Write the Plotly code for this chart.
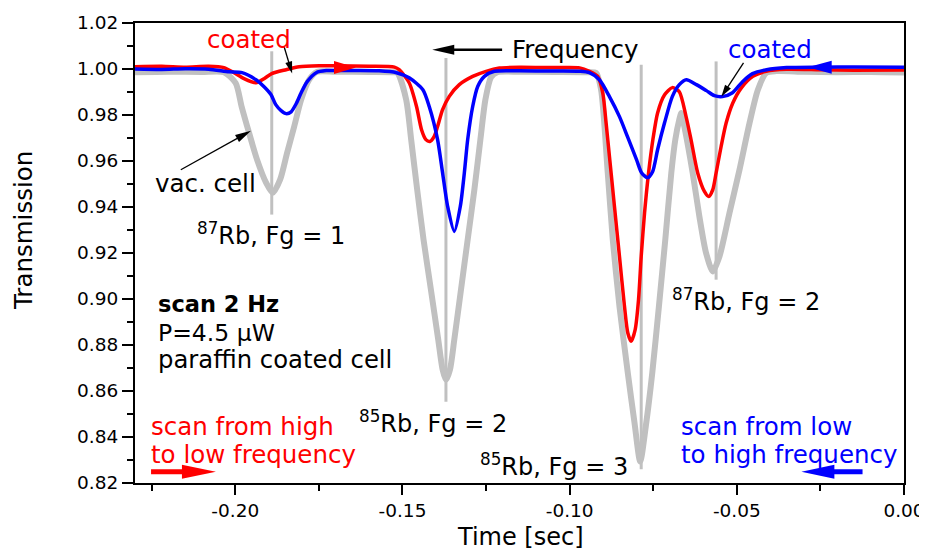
import math
import plotly.graph_objects as go

# ---------------- data ----------------
gray_x = [-0.230, -0.220, -0.210, -0.2034, -0.1999, -0.1981, -0.1959, -0.1935, -0.1908, -0.1888,
          -0.1866, -0.1845, -0.1824, -0.1803, -0.1779, -0.1755, -0.170, -0.160, -0.1530,
          -0.1515, -0.1489, -0.1474, -0.1456, -0.1437, -0.1415, -0.1393, -0.1380, -0.1370,
          -0.1358, -0.1345, -0.1325, -0.1305, -0.1285, -0.1267, -0.1252, -0.1235, -0.1216,
          -0.115, -0.105, -0.095, -0.0921, -0.0906, -0.0886, -0.0871, -0.0851, -0.0826,
          -0.0806, -0.0789, -0.0771, -0.0753, -0.0733, -0.0714, -0.0696, -0.0684, -0.0672,
          -0.0666, -0.0657, -0.0632, -0.0612, -0.0592, -0.0572, -0.0552, -0.0522, -0.0492,
          -0.0462, -0.0437, -0.0412, -0.0382, -0.030, -0.020, -0.010, 0.0]
gray_y = [0.9986, 0.9988, 0.9987, 0.9986, 0.9939, 0.9836, 0.9723, 0.9606, 0.9506, 0.9462,
          0.9519, 0.9636, 0.9749, 0.9867, 0.9954, 0.9988, 0.9988, 0.9987, 0.9986,
          0.9983, 0.9867, 0.9693, 0.9475, 0.9258, 0.9041, 0.8823, 0.8693, 0.8649,
          0.8693, 0.8823, 0.9041, 0.9258, 0.9475, 0.9693, 0.9867, 0.9965, 0.9986,
          0.9988, 0.9987, 0.9986, 0.9983, 0.9910, 0.9548, 0.9258, 0.8968, 0.8678,
          0.8461, 0.8294, 0.8461, 0.8678, 0.8968, 0.9258, 0.9548, 0.9693, 0.9780,
          0.9809, 0.9750, 0.9548, 0.9359, 0.9200, 0.9120, 0.9185, 0.9374, 0.9562,
          0.9765, 0.9910, 0.9983, 0.9991, 0.9988, 0.9986, 0.9987, 0.9985]

red_x = [-0.230, -0.222, -0.215, -0.208, -0.2034, -0.2004, -0.1974, -0.1938, -0.1914, -0.1891,
         -0.1848, -0.1809, -0.1749, -0.170, -0.160, -0.1524, -0.1510, -0.1480, -0.1458,
         -0.1443, -0.1430, -0.1418, -0.1405, -0.1395, -0.1380, -0.1360, -0.1330, -0.1290,
         -0.1250, -0.1210, -0.115, -0.105, -0.097, -0.0941, -0.0916, -0.0901, -0.0891,
         -0.0881, -0.0866, -0.0851, -0.0836, -0.0826, -0.0816, -0.0804, -0.0794, -0.0786,
         -0.0776, -0.0764, -0.0751, -0.0737, -0.0716, -0.0693, -0.0672, -0.0652, -0.0637,
         -0.0617, -0.0597, -0.0584, -0.0572, -0.0562, -0.0547, -0.0532, -0.0512, -0.0487,
         -0.0452, -0.0412, -0.0352, -0.025, -0.015, 0.0]
red_y = [1.0010, 1.0012, 1.0008, 1.0012, 1.0006, 0.9984, 0.9958, 0.9940, 0.9958, 0.9980,
         0.9997, 1.0010, 1.0014, 1.0014, 1.0012, 1.0008, 0.9997, 0.9940, 0.9837,
         0.9736, 0.9693, 0.9685, 0.9707, 0.9750, 0.9823, 0.9881, 0.9932, 0.9968,
         0.9990, 1.0004, 1.0008, 1.0006, 1.0005, 0.9990, 0.9968, 0.9896, 0.9765,
         0.9620, 0.9403, 0.9185, 0.8968, 0.8852, 0.8816, 0.8867, 0.8997, 0.9185,
         0.9374, 0.9548, 0.9693, 0.9809, 0.9888, 0.9919, 0.9901, 0.9794, 0.9693,
         0.9548, 0.9468, 0.9446, 0.9475, 0.9548, 0.9663, 0.9765, 0.9852, 0.9917,
         0.9968, 0.9990, 0.9999, 0.9997, 0.9995, 0.9996]

blue_x = [-0.230, -0.222, -0.215, -0.208, -0.2019, -0.1980, -0.1938, -0.1914, -0.1893, -0.1879,
          -0.1863, -0.1848, -0.1833, -0.1818, -0.1803, -0.1785, -0.1758, -0.1728, -0.165,
          -0.157, -0.1518, -0.1480, -0.1439, -0.1420, -0.1395, -0.1380, -0.1365, -0.1345,
          -0.1327, -0.1315, -0.1305, -0.1290, -0.1275, -0.1255, -0.1225, -0.115, -0.105,
          -0.097, -0.0941, -0.0911, -0.0881, -0.0851, -0.0827, -0.0800, -0.0785, -0.0767,
          -0.0752, -0.0737, -0.0716, -0.0693, -0.0672, -0.0651, -0.0621, -0.0591, -0.0567,
          -0.0543, -0.0513, -0.0483, -0.0453, -0.0411, -0.0351, -0.025, -0.015, 0.0]
blue_y = [1.0000, 0.9998, 1.0001, 0.9999, 0.9988, 0.9984, 0.9953, 0.9923, 0.9888, 0.9845,
          0.9819, 0.9806, 0.9814, 0.9849, 0.9897, 0.9945, 0.9984, 0.9993, 0.9993,
          0.9992, 0.9984, 0.9962, 0.9910, 0.9837, 0.9693, 0.9548, 0.9403, 0.9294,
          0.9403, 0.9548, 0.9693, 0.9837, 0.9924, 0.9968, 0.9990, 0.9992, 0.9991,
          0.9990, 0.9984, 0.9953, 0.9880, 0.9793, 0.9706, 0.9606, 0.9549, 0.9527,
          0.9553, 0.9649, 0.9767, 0.9880, 0.9932, 0.9953, 0.9932, 0.9906, 0.9884,
          0.9880, 0.9897, 0.9945, 0.9980, 0.9997, 1.0006, 1.0008, 1.0009, 1.0008]

# gray vertical markers at the line centres
mark_x = [-0.1891, -0.1370, -0.0786, -0.0562]
mark_top = [1.0077, 1.0048, 1.0019, 1.0033]
mark_bottom = [0.9367, 0.8553, 0.8260, 0.9084]

x_tickvals = [-0.20, -0.15, -0.10, -0.05, 0.00]
x_ticktext = ["-0.20", "-0.15", "-0.10", "-0.05", "0.00"]
y_tickvals = [0.82, 0.84, 0.86, 0.88, 0.90, 0.92, 0.94, 0.96, 0.98, 1.00, 1.02]
y_ticktext = ["0.82", "0.84", "0.86", "0.88", "0.90", "0.92", "0.94", "0.96", "0.98", "1.00", "1.02"]

# ---------------- figure ----------------
FONT = "DejaVu Sans"
RED, BLUE, GRAY = "#ff0000", "#0000ff", "#c0c0c0"
X_RANGE = [-0.23, 0.0]
Y_RANGE = [0.82, 1.02]
OFF = 8                      # default body margin of the html page
SCR_W, SCR_H = 927, 553
PL, PR, PT, PB = 135, 904, 23, 483          # plot area on screen
W, H = SCR_W - OFF, SCR_H - OFF
ML, MT = PL - OFF, PT - OFF
MR, MB = SCR_W - PR, SCR_H - PB
PW, PH = PR - PL, PB - PT
KX = PW / (X_RANGE[1] - X_RANGE[0])
KY = PH / (Y_RANGE[1] - Y_RANGE[0])

fig = go.Figure()

vx, vy = [], []
for x, t, b in zip(mark_x, mark_top, mark_bottom):
    vx += [x, x, None]
    vy += [t, b, None]
fig.add_trace(go.Scatter(x=vx, y=vy, mode="lines", line=dict(color=GRAY, width=3),
                         hoverinfo="skip", showlegend=False))
fig.add_trace(go.Scatter(x=gray_x, y=gray_y, mode="lines", name="vac. cell",
                         line=dict(color=GRAY, width=6, shape="spline", smoothing=0.7)))
fig.add_trace(go.Scatter(x=red_x, y=red_y, mode="lines", name="coated (high→low)",
                         line=dict(color=RED, width=3.5, shape="spline", smoothing=0.7)))
fig.add_trace(go.Scatter(x=blue_x, y=blue_y, mode="lines", name="coated (low→high)",
                         line=dict(color=BLUE, width=3.5, shape="spline", smoothing=0.7)))

shapes = []


def arrow(tip, tail, head_len, head_w, lw, color, shaft=True):
    x1, y1 = tip
    x0, y0 = tail
    dxp, dyp = (x1 - x0) * KX, (y1 - y0) * KY
    L = math.hypot(dxp, dyp)
    ux, uy = dxp / L, dyp / L
    bx, by = x1 - ux * head_len / KX, y1 - uy * head_len / KY
    px, py = -uy * head_w / 2, ux * head_w / 2
    c1 = (bx + px / KX, by + py / KY)
    c2 = (bx - px / KX, by - py / KY)
    if shaft:
        sx, sy = x1 - ux * head_len * 0.6 / KX, y1 - uy * head_len * 0.6 / KY
        shapes.append(dict(type="line", xref="x", yref="y", x0=x0, y0=y0, x1=sx, y1=sy,
                           line=dict(color=color, width=lw)))
    shapes.append(dict(type="path", xref="x", yref="y",
                       path=f"M {x1},{y1} L {c1[0]},{c1[1]} L {c2[0]},{c2[1]} Z",
                       fillcolor=color, line=dict(width=0)))


arrow((-0.1411, 1.0084), (-0.1202, 1.0084), 22, 10, 2.5, "black")      # Frequency
arrow((-0.1953, 0.9732), (-0.2163, 0.9562), 16, 8, 1.3, "black")      # vac. cell
arrow((-0.1830, 0.9980), (-0.1854, 1.0097), 12, 7, 1.3, "black")      # coated (red)
arrow((-0.0546, 0.9880), (-0.0480, 1.0027), 12, 7, 1.3, "black")      # coated (blue)
arrow((-0.2058, 0.8249), (-0.2252, 0.8249), 34, 14, 5, RED)           # bottom red
arrow((-0.0307, 0.8249), (-0.0124, 0.8249), 33, 14, 5, BLUE)          # bottom blue
arrow((-0.1639, 1.0006), (-0.1705, 1.0006), 22, 13, 0, RED, shaft=False)   # on red curve
arrow((-0.0288, 1.0008), (-0.0217, 1.0008), 24, 13, 0, BLUE, shaft=False)  # on blue curve

ann = []


def text(x, y, s, color="black", size=24.5, xanchor="center", bold=False):
    if bold:
        s = "<b>" + s + "</b>"
    ann.append(dict(x=x, y=y, xref="x", yref="y", text=s, showarrow=False,
                    xanchor=xanchor, yanchor="middle",
                    font=dict(family=FONT, size=size, color=color)))


text(-0.1959, 1.0127, "coated", RED)
text(-0.0402, 1.0084, "coated", BLUE)
text(-0.0983, 1.0084, "Frequency")
text(-0.2090, 0.9502, "vac. cell")
text(-0.1893, 0.9284, "<sup>87</sup>Rb, Fg = 1", size=24)
text(-0.1408, 0.8467, "<sup>85</sup>Rb, Fg = 2", size=24)
text(-0.1046, 0.8280, "<sup>85</sup>Rb, Fg = 3", size=24)
text(-0.0474, 0.8997, "<sup>87</sup>Rb, Fg = 2", size=24)
text(-0.2237, 0.8980, "scan 2 Hz", size=22.5, xanchor="left", bold=True)
text(-0.2237, 0.8853, "P=4.5 μW", size=23.5, xanchor="left")
text(-0.2237, 0.8736, "paraffin coated cell", size=24.3, xanchor="left")
text(-0.2258, 0.8445, "scan from high", RED, size=24.5, xanchor="left")
text(-0.2258, 0.8325, "to low frequency", RED, size=24.5, xanchor="left")
text(-0.0672, 0.8445, "scan from low", BLUE, size=24.5, xanchor="left")
text(-0.0672, 0.8325, "to high frequency", BLUE, size=24.5, xanchor="left")

# axis titles placed in paper coordinates (pixel centres from the reference)
ann.append(dict(x=(23 - PL) / PW, y=(PB - 231) / PH, xref="paper", yref="paper",
                text="Transmission", textangle=-90, showarrow=False,
                xanchor="center", yanchor="middle",
                font=dict(family=FONT, size=24.5, color="black")))
ann.append(dict(x=(520 - PL) / PW, y=(PB - 537) / PH, xref="paper", yref="paper",
                text="Time [sec]", showarrow=False, xanchor="center", yanchor="middle",
                font=dict(family=FONT, size=24, color="black")))

axis_common = dict(showgrid=False, zeroline=False, showline=True, linecolor="black",
                   linewidth=2, mirror=True, ticks="outside", tickwidth=2, automargin=False,
                   tickcolor="black", tickfont=dict(family=FONT, size=18.5, color="black"))

fig.update_layout(
    width=W, height=H,
    margin=dict(l=ML, r=MR, t=MT, b=MB, autoexpand=False),
    paper_bgcolor="white", plot_bgcolor="white",
    showlegend=False,
    shapes=shapes, annotations=ann,
    xaxis=dict(range=X_RANGE, tickvals=x_tickvals, ticktext=x_ticktext, ticklen=10,
               minor=dict(tickvals=[-0.225, -0.175, -0.125, -0.075, -0.025], ticklen=6,
                          tickwidth=2, ticks="outside", tickcolor="black"),
               **axis_common),
    yaxis=dict(range=Y_RANGE, tickvals=y_tickvals, ticktext=y_ticktext, ticklen=11,
               minor=dict(tickvals=[0.83, 0.85, 0.87, 0.89, 0.91, 0.93, 0.95, 0.97, 0.99, 1.01],
                          ticklen=6, tickwidth=2, ticks="outside", tickcolor="black"),
               **axis_common),
)

fig.write_html("out.html")
